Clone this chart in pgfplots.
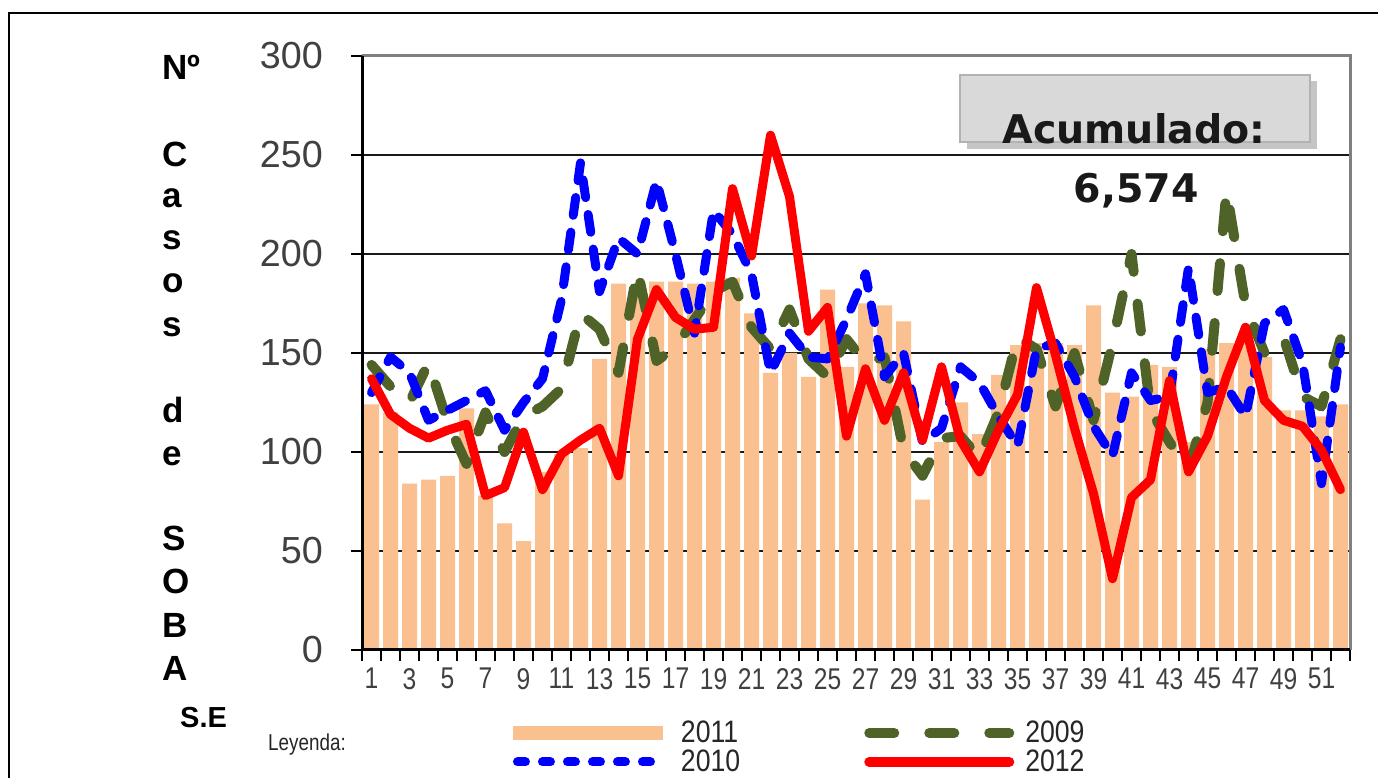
\documentclass[border=0pt]{standalone}
\usepackage{pgfplots}
\pgfplotsset{compat=1.18}
\usepackage{pgfplotstable}
\usepackage{fontspec}
\setmainfont{Liberation Sans}
\newfontfamily\narrowfont[FakeStretch=0.82]{Liberation Sans}
\newfontfamily\legfont[FakeStretch=0.86]{Liberation Sans}
\newfontfamily\boxfont{DejaVu Sans}
\definecolor{peach}{HTML}{FAC090}
\definecolor{olivedash}{HTML}{4F6228}
\definecolor{tickgray}{HTML}{404040}

\pgfplotstableread{
w b2011 g2009 b2010 r2012
1 124 144 130 137
2 120 133 148 119
3 84 125 140 112
4 86 145 116 107
5 88 115 121 111
6 122 94 126 114
7 78 120 131 78
8 64 100 111 82
9 55 118 125 110
10 90 123 137 81
11 99 132 177 99
12 102 170 246 106
13 147 162 181 112
14 185 140 208 88
15 182 192 200 157
16 186 146 237 182
17 186 153 200 168
18 185 167 160 162
19 186 181 222 163
20 188 186 210 233
21 170 163 190 199
22 140 152 140 260
23 150 172 160 229
24 138 147 148 161
25 182 138 147 173
26 143 157 167 108
27 175 145 190 142
28 174 148 138 116
29 166 101 150 140
30 76 88 105 106
31 105 107 112 143
32 125 108 143 106
33 109 97 135 90
34 139 120 118 111
35 154 158 103 129
36 155 152 152 183
37 155 123 155 149
38 154 150 138 112
39 174 116 113 79
40 130 155 98 36
41 128 200 140 77
42 144 121 126 86
43 143 105 128 136
44 105 91 193 90
45 152 125 130 108
46 155 232 133 138
47 160 174 118 163
48 148 150 165 126
49 121 158 172 116
50 121 128 145 113
51 118 123 84 101
52 124 157 153 81
}\datatable

\begin{document}
\begin{tikzpicture}
\useasboundingbox (0bp,0bp) rectangle (1378bp,778bp);
\fill[white] (0bp,0bp) rectangle (1378bp,778bp);
% outer frame
\draw[black, line width=2bp] (9bp,0bp) -- (9bp,765bp) -- (1378bp,765bp);

% vertical y label
\foreach \t/\yy in {Nº/80, C/167, a/208, s/250, o/293, s/337, d/422, e/465, S/550, O/593, B/637, A/680}{
  \node[anchor=base west, inner sep=0pt, font=\bfseries\fontsize{35bp}{38bp}\selectfont] at (162bp, {(778-\yy)*1bp}) {\t};
}
\node[anchor=base west, inner sep=0pt, font=\bfseries\fontsize{29bp}{31bp}\selectfont] at (180bp, 50bp) {S.E};
\node[anchor=base west, inner sep=0pt, text=black!85, font=\narrowfont\fontsize{23bp}{25bp}\selectfont] at (268bp, 28bp) {Leyenda:};

\begin{axis}[
  at={(362bp,128bp)}, anchor=south west,
  scale only axis, width=988bp, height=594bp,
  xmin=0.5, xmax=52.5, ymin=0, ymax=300,
  axis x line*=bottom, axis y line*=left,
  axis line style={line width=3bp, black, -},
  ytick={0,50,...,300},
  ymajorgrids, grid style={line width=1.6bp, black!90},
  xtick={0.5,1.5,...,52.5}, xticklabels={},
  extra x ticks={1,3,...,51},
  extra x tick labels={1,3,5,7,9,11,13,15,17,19,21,23,25,27,29,31,33,35,37,39,41,43,45,47,49,51},
  extra x tick style={major tick length=0bp},
  tick align=outside, major tick length=11bp,
  tick style={line width=2bp, black},
  /pgf/number format/assume math mode=true,
  yticklabel style={font=\fontsize{37.7bp}{40bp}\selectfont, text=tickgray, anchor=east, inner sep=0pt, xshift=-28bp},
  xticklabel style={font=\narrowfont\fontsize{30bp}{32bp}\selectfont, text=tickgray, anchor=north, inner sep=0pt, yshift=-18bp},
  clip=false,
  legend columns=2,
  legend cell align=left,
  legend style={
    at={(axis description cs:0.1457,-0.1195)}, anchor=north west,
    draw=none, fill=none, inner sep=0pt, outer sep=0pt,
    font=\legfont\fontsize{31bp}{33bp}\selectfont,
    text=black!85,
    row sep=5bp,
    nodes={inner xsep=0bp, inner ysep=0bp, text height=22bp, text depth=2bp},
    /tikz/every even column/.append style={column sep=124bp},
    /tikz/every odd column/.append style={column sep=11bp},
  },
  after end axis/.code={
    \draw[line width=3bp, black!50] (rel axis cs:0,1) -- (rel axis cs:1,1) -- (rel axis cs:1,0);
    \draw[line width=3bp, black] (rel axis cs:0,1) -- (rel axis cs:0,0) -- (rel axis cs:1,0);
  },
]
\addplot[ybar, bar width=15bp, fill=peach, draw=none,
  legend image code/.code={\draw[line width=14bp, peach] (0bp,0bp) -- (150bp,0bp);}]
  table[x=w, y=b2011] {\datatable};
\addlegendentry{2011}
\addplot[sharp plot, olivedash, line width=10bp, line cap=round, line join=round, dash pattern=on 28bp off 32bp,
  legend image code/.code={\draw[line width=10bp, olivedash, line cap=round, dash pattern=on 25bp off 35bp] (5bp,0bp) -- (145bp,0bp);}]
  table[x=w, y=g2009] {\datatable};
\addlegendentry{2009}
\addplot[sharp plot, blue, line width=9bp, line cap=round, line join=round, dash pattern=on 18bp off 17bp,
  legend image code/.code={\draw[line width=9bp, blue, line cap=round, dash pattern=on 8bp off 17bp] (4.5bp,0bp) -- (145.5bp,0bp);}]
  table[x=w, y=b2010] {\datatable};
\addlegendentry{2010}
\addplot[sharp plot, red, line width=9bp, line cap=round, line join=round,
  legend image code/.code={\draw[line width=10bp, red, line cap=round] (5bp,0bp) -- (145bp,0bp);}]
  table[x=w, y=r2012] {\datatable};
\addlegendentry{2012}
\end{axis}

% Acumulado box
\fill[black!45, opacity=0.5] (967bp,629bp) rectangle (1317bp,697bp);
\fill[black!15] (960bp,636bp) rectangle (1310bp,703bp);
\draw[black!30, line width=1.5bp] (960bp,636bp) rectangle (1310bp,703bp);
\node[anchor=base, inner sep=0pt, text=black!90, font=\boxfont\bfseries\fontsize{39.5bp}{42bp}\selectfont] at (1134bp,634bp) {Acumulado:};
\node[anchor=base, inner sep=0pt, text=black!90, font=\boxfont\bfseries\fontsize{39.5bp}{42bp}\selectfont] at (1136bp,575bp) {6,574};
\end{tikzpicture}
\end{document}
